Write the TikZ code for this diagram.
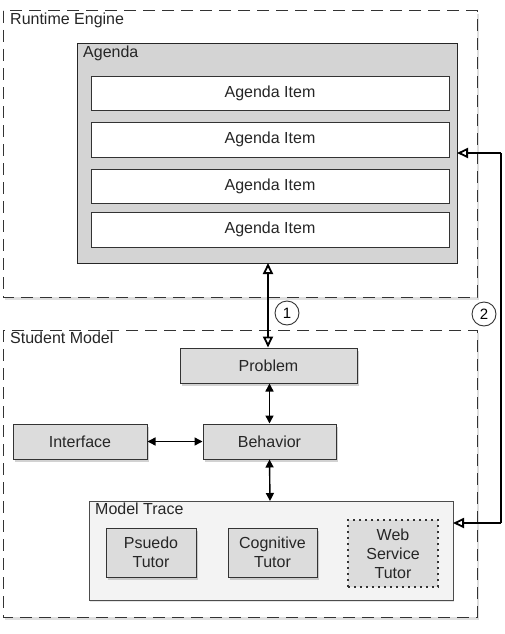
\documentclass[tikz,border=0pt]{standalone}
\usepackage{fontspec}
\setmainfont{Liberation Sans}
\usetikzlibrary{arrows.meta,shadows,positioning}
\definecolor{agendagray}{HTML}{D4D4D4}
\definecolor{boxgray}{HTML}{DCDCDC}
\definecolor{tracegray}{HTML}{F3F3F3}
\tikzset{
  region/.style={draw=black!80, dash pattern=on 12pt off 7pt, line width=1pt, fill=white,
                 drop shadow={shadow xshift=2pt, shadow yshift=-3pt, opacity=0.25}},
  plainbox/.style={draw=black!80, line width=1pt, fill=boxgray,
                 drop shadow={shadow xshift=2pt, shadow yshift=-3pt, opacity=0.35}},
  itembox/.style={draw=black!80, line width=1pt, fill=white},
  lbl/.style={font=\fontsize{16}{18}\selectfont, anchor=north west, inner sep=0pt, text=black!85},
  txt/.style={font=\fontsize{16}{19}\selectfont, align=center, text=black!85},
  openboth/.style={{Triangle[open,length=11pt,width=10pt,fill=white]}-{Triangle[open,length=11pt,width=10pt,fill=white]}, line width=1.8pt},
  openend/.style={-{Triangle[open,length=11pt,width=10pt,fill=white]}, line width=1.8pt},
  solidboth/.style={{Triangle[length=8pt,width=8pt]}-{Triangle[length=8pt,width=8pt]}, line width=1.4pt},
  numcircle/.style={circle, draw=black!80, line width=0.9pt, minimum size=24pt, inner sep=0pt, font=\fontsize{15}{17}\selectfont}
}
\begin{document}
\begin{tikzpicture}[x=1pt,y=-1pt]
\useasboundingbox (0,0) rectangle (505,634);

% Runtime engine region
\path[region] (3,11) rectangle (477,297);
\node[lbl] (rtl) at (10,13) {Runtime Engine};

% Agenda
\draw[line width=1pt, fill=agendagray, draw=black!85] (77,44) rectangle (457,263);
\coordinate (agS) at (268,263);
\coordinate (agE) at (457,153);
\node[lbl] (agl) at (83,46) {Agenda};
\foreach \t/\b [count=\i] in {76/110,122/157,169/203,212/247}{
  \draw[itembox] (91,\t) rectangle (449,\b);
  \node[txt] (item\i) at (270,{(\t+\b)/2}) {Agenda Item};
}

% Student model region
\path[region] (3,330) rectangle (477,617);
\node[lbl] (sml) at (10,332) {Student Model};

% Inner boxes
\node[plainbox, minimum width=177pt, minimum height=35pt, txt] (prob) at (268.5,365.5) {Problem};
\node[plainbox, minimum width=134pt, minimum height=35pt, txt] (intf) at (80,441.5) {Interface};
\node[plainbox, minimum width=133pt, minimum height=35pt, txt] (beh) at (269.5,441.5) {Behavior};

% Model trace
\draw[line width=1pt, fill=tracegray, draw=black!70,
      drop shadow={shadow xshift=1pt, shadow yshift=-2pt, opacity=0.2}] (89,501) rectangle (453,600);
\coordinate (mtN) at (270,501);
\coordinate (mtE) at (453,523);
\node[lbl] (mtl) at (95,503) {Model Trace};
\node[plainbox, minimum width=90pt, minimum height=49pt, txt] (pseudo) at (151,552.5) {Psuedo\\Tutor};
\node[plainbox, minimum width=89pt, minimum height=49pt, txt] (cog) at (272.5,552.5) {Cognitive\\Tutor};
\node[draw=black!80, dash pattern=on 2pt off 4pt, line width=1.8pt, fill=boxgray,
      minimum width=90pt, minimum height=67pt, txt] (web) at (393,553.5) {Web\\Service\\Tutor};

% Connectors
\draw[openboth] (agS) -- (prob.north -| agS);
\draw[solidboth] (prob.south -| beh) -- (beh.north);
\draw[solidboth] (intf.east) -- (beh.west);
\draw[solidboth] (beh.south) -- (mtN);

\coordinate (c2a) at (501,153);
\coordinate (c2b) at (501,523);
\draw[line width=1.8pt] (c2a) -- (c2b);
\draw[openend] (c2a) -- (agE);
\draw[openend] (c2b) -- (mtE);

\node[numcircle] (n1) at (287,313) {1};
\node[numcircle] (n2) at (484,314) {2};
\end{tikzpicture}
\end{document}
